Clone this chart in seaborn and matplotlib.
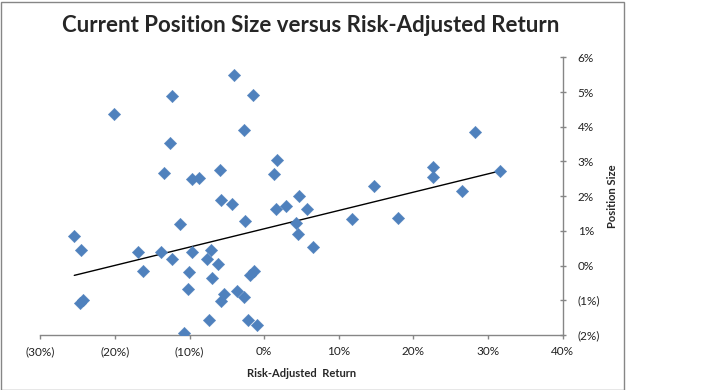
import numpy as np
import pandas as pd
import seaborn as sns
import matplotlib.pyplot as plt
from matplotlib.ticker import FuncFormatter

# risk-adjusted return (%) and position size (%)
risk_adj_return = [-25.47, -24.57, -20.10, -12.33, -4.01, -1.46, -2.67, -12.59,
                   1.71, 1.27, -13.40, -9.64, -8.79, -5.93, -5.79, -4.32,
                   1.58, 2.88, -2.54, -11.25, -16.93, -13.84, -9.64, -7.10,
                   -12.33, -7.63, -6.16, -16.21, -10.05, -7.00, -1.91, -1.33,
                   -10.18, -5.43, -3.61, -2.67, -5.83, -24.70, -24.26, -7.40,
                   -2.13, -0.97, -10.76, 4.67, 5.78, 4.30, 4.57, 6.54,
                   11.81, 14.76, 17.98, 22.64, 22.64, 26.52, 28.31, 31.62]
position_size = [0.86, 0.45, 4.36, 4.88, 5.49, 4.91, 3.91, 3.53,
                 3.05, 2.63, 2.66, 2.50, 2.52, 2.76, 1.89, 1.78,
                 1.62, 1.72, 1.28, 1.20, 0.39, 0.40, 0.39, 0.45,
                 0.20, 0.18, 0.05, -0.15, -0.18, -0.36, -0.27, -0.15,
                 -0.68, -0.82, -0.72, -0.91, -1.02, -1.07, -0.99, -1.56,
                 -1.56, -1.71, -1.95, 2.01, 1.62, 1.23, 0.90, 0.53,
                 1.34, 2.30, 1.37, 2.83, 2.55, 2.14, 3.84, 2.72]

# linear trendline as shown on the chart (slope, intercept)
trend_slope = 0.0527
trend_intercept = 1.06

x_ticks = [-30, -20, -10, 0, 10, 20, 30, 40]
y_ticks = [-2, -1, 0, 1, 2, 3, 4, 5, 6]

df = pd.DataFrame({"ret": risk_adj_return, "size": position_size})
trend_x = [df["ret"].min(), df["ret"].max()]
trend = pd.DataFrame({"ret": trend_x,
                      "size": [trend_intercept + trend_slope * v for v in trend_x]})

sns.set_style("white")
plt.rcParams['font.family'] = ['Lato', 'DejaVu Sans']

fig = plt.figure(figsize=(7.02, 3.90), dpi=100)
ax = fig.add_axes([40.5 / 702, 1 - 335 / 390, 522 / 702, 277.7 / 390])

# chart border
fig.add_artist(plt.Rectangle((0.5 / 702, 0.5 / 390), 623.5 / 702, 388 / 390,
                             transform=fig.transFigure, fill=False,
                             ec='#868686', lw=1))

sns.lineplot(data=trend, x="ret", y="size", ax=ax, color='black', lw=1)
sns.scatterplot(data=df, x="ret", y="size", ax=ax, marker='D', s=40,
                color='#4F81BD', edgecolor='#4F81BD', linewidth=0.3, zorder=3)

def pct(v, pos):
    v = int(round(v))
    return "({}%)".format(-v) if v < 0 else "{}%".format(v)

ax.set_xlim(-30, 40)
ax.set_ylim(-2, 6)
ax.set_xticks(x_ticks)
ax.set_yticks(y_ticks)
ax.xaxis.set_major_formatter(FuncFormatter(pct))
ax.yaxis.set_major_formatter(FuncFormatter(pct))

ax.yaxis.tick_right()
ax.yaxis.set_label_position('right')
for s in ['top', 'left']:
    ax.spines[s].set_visible(False)
for s in ['bottom', 'right']:
    ax.spines[s].set_color('#868686')
    ax.spines[s].set_linewidth(1)

ax.tick_params(axis='x', direction='out', length=3, width=1, color='#868686',
               labelsize=8.5, labelcolor='#222222', pad=5, bottom=True)
ax.tick_params(axis='y', direction='inout', length=4, width=1, color='#868686',
               labelsize=8.5, labelcolor='#222222', pad=9, right=True, left=False)

ax.set_xlabel("Risk-Adjusted  Return", fontsize=8, fontweight='bold', labelpad=8)
ax.set_ylabel("Position Size", fontsize=8, fontweight='bold', labelpad=5)

fig.text(311 / 702, 1 - 26 / 390, "Current Position Size versus Risk-Adjusted Return",
         ha='center', va='center', fontsize=16, fontweight='bold')

plt.savefig("out.png", dpi=100)
